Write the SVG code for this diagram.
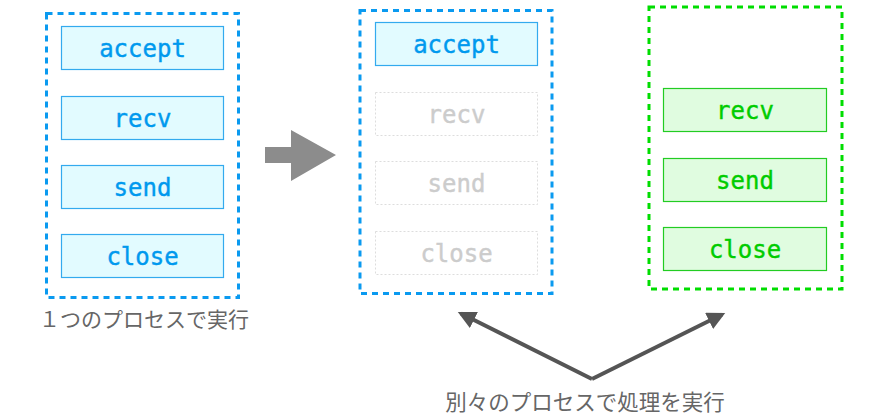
<svg xmlns="http://www.w3.org/2000/svg" width="881" height="416" viewBox="0 0 881 416">
<style>
.bframe{fill:none;stroke:#0a9af0;stroke-width:3;stroke-dasharray:6 5}
.gframe{fill:none;stroke:#00dd00;stroke-width:3;stroke-dasharray:6 5}
.bbox{fill:#e2fbff;stroke:#33aaee;stroke-width:1.2}
.gbox{fill:#e0fce0;stroke:#22cc22;stroke-width:1.2}
.xbox{fill:none;stroke:#dddddd;stroke-width:1;stroke-dasharray:2 2}
.mono{font-family:"DejaVu Sans Mono","Liberation Mono",monospace;font-size:24px;text-anchor:middle;stroke-width:0.4}
.bt{fill:#0099ee;stroke:#0099ee}
.gt{fill:#00cc00;stroke:#00cc00}
.xt{fill:#cccccc;stroke:#cccccc}
.jp{font-family:"Noto Sans CJK JP","Noto Sans",sans-serif;font-size:21px;fill:#666666;text-anchor:middle}
</style>
<defs>
<marker id="ah" viewBox="0 0 10 10" refX="8" refY="5" markerWidth="4.5" markerHeight="4.5" orient="auto" markerUnits="strokeWidth">
<path d="M0,0 L10,5 L0,10 z" fill="#555555"/>
</marker>
</defs>
<g id="single-process">
<rect class="bframe" x="46.5" y="13.5" width="192" height="284"/>
<g id="s-accept"><rect class="bbox" x="61.5" y="26.5" width="162" height="43"/><text class="mono bt" x="142.5" y="56.5">accept</text></g>
<g id="s-recv"><rect class="bbox" x="61.5" y="96.5" width="162" height="43"/><text class="mono bt" x="142.5" y="126.5">recv</text></g>
<g id="s-send"><rect class="bbox" x="61.5" y="165.5" width="162" height="43"/><text class="mono bt" x="142.5" y="195.5">send</text></g>
<g id="s-close"><rect class="bbox" x="61.5" y="234.5" width="162" height="43"/><text class="mono bt" x="142.5" y="264.5">close</text></g>
<text class="jp" x="144" y="327">１つのプロセスで実行</text>
</g>
<g id="big-arrow">
<polygon points="265,147 291,147 291,130 336,155 291,181 291,163 265,163" fill="#8c8c8c"/>
</g>
<g id="parent-process">
<rect class="bframe" x="360" y="10.5" width="192" height="283"/>
<g id="p-accept"><rect class="bbox" x="375.5" y="22.5" width="162" height="43"/><text class="mono bt" x="456.5" y="52.5">accept</text></g>
<g id="p-recv"><rect class="xbox" x="375.5" y="92.5" width="162" height="43"/><text class="mono xt" x="456.5" y="122.5">recv</text></g>
<g id="p-send"><rect class="xbox" x="375.5" y="161.5" width="162" height="43"/><text class="mono xt" x="456.5" y="191.5">send</text></g>
<g id="p-close"><rect class="xbox" x="375.5" y="231.5" width="162" height="43"/><text class="mono xt" x="456.5" y="261.5">close</text></g>
</g>
<g id="child-process">
<rect class="gframe" x="649" y="7" width="193" height="282"/>
<g id="c-recv"><rect class="gbox" x="663.5" y="88.5" width="163" height="43"/><text class="mono gt" x="745" y="118.5">recv</text></g>
<g id="c-send"><rect class="gbox" x="663.5" y="158.5" width="163" height="43"/><text class="mono gt" x="745" y="188.5">send</text></g>
<g id="c-close"><rect class="gbox" x="663.5" y="227.5" width="163" height="43"/><text class="mono gt" x="745" y="257.5">close</text></g>
</g>
<g id="connectors">
<line x1="592" y1="379" x2="461" y2="313.5" stroke="#555555" stroke-width="4" marker-end="url(#ah)"/>
<line x1="592" y1="379" x2="722" y2="314.5" stroke="#555555" stroke-width="4" marker-end="url(#ah)"/>
</g>
<text class="jp" x="585" y="410" style="font-size:21.5px">別々のプロセスで処理を実行</text>
</svg>
